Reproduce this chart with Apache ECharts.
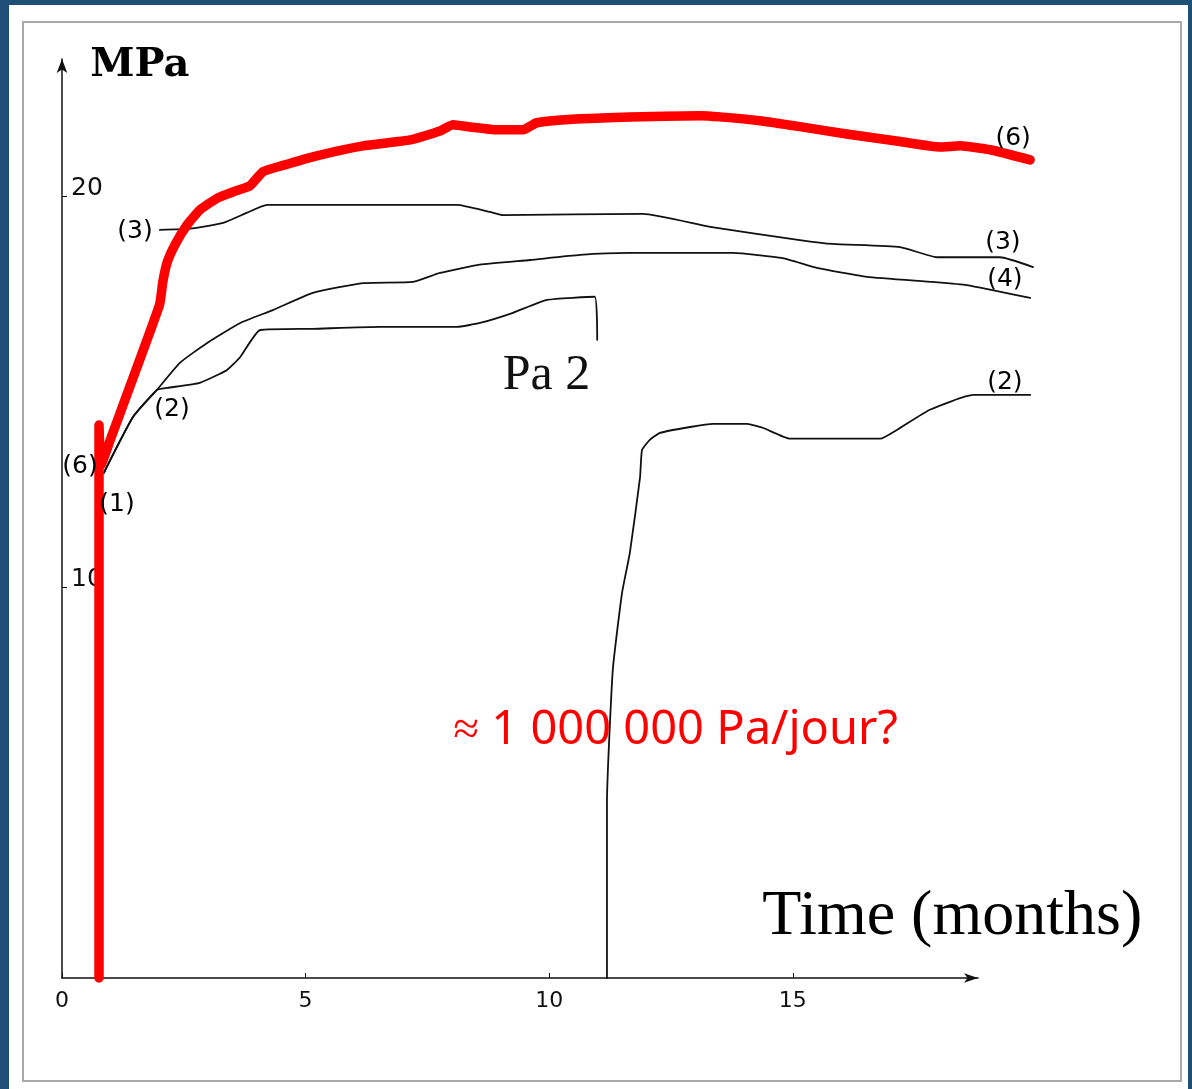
<!DOCTYPE html>
<html><head><meta charset="utf-8">
<script src="https://cdn.jsdelivr.net/npm/echarts@6/dist/echarts.min.js"></script>
<style>
html,body{margin:0;padding:0;width:1192px;height:1089px;overflow:hidden;background:#1f4e79;}
#panel{position:absolute;left:9px;top:5px;width:1179px;height:1084px;background:#fff;}
#inner{position:absolute;left:22px;top:21px;width:1160px;height:1061px;border:2px solid #a9a9a9;box-sizing:border-box;}
#chart{position:absolute;left:0;top:0;width:1192px;height:1089px;}
</style></head><body>
<div id="panel"></div><div id="inner"></div><div id="chart"></div>
<script>
// x: time in months, y: stress in MPa
const xTicks = [0, 5, 10, 15];
const yTicks = [10, 20];

const curve6 = [[0.76,0],[0.76,14.14],[0.80,13.12],[0.99,13.76],[2.0,17.2],[2.07,17.8],[2.16,18.3],[2.32,18.75],[2.57,19.26],[2.83,19.64],[3.2,19.95],[3.51,20.1],[3.86,20.26],[4.13,20.62],[4.54,20.78],[5.15,21.0],[6.18,21.28],[7.15,21.43],[7.76,21.66],[8.03,21.82],[8.38,21.76],[8.93,21.69],[9.47,21.69],[9.75,21.87],[10.64,21.97],[11.66,22.02],[13.1,22.05],[13.51,22.02],[14.33,21.92],[15.15,21.77],[16.18,21.57],[17.21,21.39],[18.03,21.25],[18.44,21.28],[19.06,21.18],[19.88,20.92]];

const curve3 = [[2.01,19.13],[2.63,19.16],[3.31,19.31],[3.8,19.57],[4.21,19.77],[8.11,19.77],[8.79,19.59],[9.06,19.51],[11.93,19.54],[13.31,19.21],[15.15,18.87],[15.83,18.77],[17.21,18.69],[17.97,18.43],[19.26,18.43],[19.94,18.18]];

const curve4 = [[0.86,12.92],[1.46,14.35],[1.95,15.04],[2.42,15.73],[2.98,16.24],[3.66,16.75],[4.33,17.08],[5.15,17.52],[6.18,17.77],[7.21,17.8],[7.76,18.03],[8.58,18.24],[9.61,18.36],[10.64,18.49],[11.66,18.54],[13.78,18.54],[14.8,18.41],[15.5,18.16],[16.53,17.93],[17.89,17.8],[18.58,17.72],[19.88,17.39]];

const curvePa2 = [[0.86,12.92],[1.46,14.35],[1.95,15.04],[2.16,15.09],[2.83,15.22],[3.39,15.55],[3.66,15.88],[4.07,16.57],[5.15,16.6],[6.53,16.65],[8.11,16.65],[8.58,16.75],[9.26,17.01],[9.96,17.34],[10.94,17.42],[10.99,16.32]];

const curve2 = [[11.19,0],[11.19,4.48],[11.31,7.88],[11.5,9.85],[11.66,10.87],[11.87,12.81],[11.91,13.5],[12.07,13.76],[12.28,13.94],[12.9,14.09],[13.37,14.17],[14.07,14.17],[14.39,14.07],[14.95,13.79],[16.8,13.79],[17.15,14.02],[17.82,14.53],[18.71,14.91],[19.88,14.91]];

const curveLabels = ['(3)', '(2)', '(6)', '(1)', '(6)', '(3)', '(4)', '(2)'];
const curveLabelAnchors = [[1.5,19.08],[2.26,14.53],[0.37,13.09],[1.13,12.1],[19.53,21.46],[19.32,18.82],[19.36,17.85],[19.36,15.24]];

const textMPa = 'MPa';
const textPa2 = 'Pa 2';
const textXTitle = 'Time (months)';
const textNote = '≈ 1 000 000 Pa/jour?';

const chart = echarts.init(document.getElementById('chart'), null, {renderer: 'canvas'});

function lineSeries(data, color, width) {
  return {type: 'line', xAxisIndex: 0, yAxisIndex: 0, data: data, showSymbol: false, symbol: 'none', clip: false, smooth: 0.15,
    lineStyle: {color: color, width: width, cap: 'round', join: 'round'}, z: width > 4 ? 5 : 3, silent: true};
}

const smallLabelData = curveLabels.map((t, i) => ({name: t, value: curveLabelAnchors[i]}));

const gridBox = {left: 62, top: 59, height: 919};

const option = {
  animation: false,
  backgroundColor: 'transparent',
  grid: [
    Object.assign({width: 974, containLabel: false}, gridBox),  // data grid, 0..20 months
    Object.assign({width: 916, containLabel: false}, gridBox)   // drawn axis, 0..18.8 months
  ],
  xAxis: [
    {type: 'value', gridIndex: 0, min: 0, max: 20, show: false},
    {
      type: 'value', gridIndex: 1, min: 0, max: 18.8,
      axisLine: {show: true, symbol: ['none', 'arrow'], symbolSize: [7, 14], lineStyle: {color: '#111', width: 1.5}},
      axisTick: {show: true, inside: true, length: 5, customValues: xTicks, lineStyle: {color: '#111'}},
      axisLabel: {customValues: xTicks, margin: 12, fontFamily: 'DejaVu Sans', fontSize: 22, color: '#111'},
      splitLine: {show: false}
    }
  ],
  yAxis: [
    {
      type: 'value', gridIndex: 0, min: 0, max: 23.5,
      axisLine: {show: true, symbol: ['none', 'arrow'], symbolSize: [8, 14], lineStyle: {color: '#111', width: 1.5}},
      axisTick: {show: true, inside: true, length: 5, customValues: yTicks, lineStyle: {color: '#111'}},
      axisLabel: {inside: true, customValues: yTicks, margin: 9, fontFamily: 'DejaVu Sans', fontSize: 25, color: '#111', verticalAlign: 'bottom', padding: [0,0,-5,0]},
      splitLine: {show: false}
    },
    {type: 'value', gridIndex: 1, min: 0, max: 23.5, show: false}
  ],
  series: [
    lineSeries(curve3, '#111', 1.8),
    lineSeries(curve4, '#111', 1.8),
    lineSeries(curvePa2, '#111', 1.8),
    lineSeries(curve2, '#111', 1.8),
    lineSeries(curve6, '#ff0000', 9.5),
    {
      type: 'scatter', xAxisIndex: 0, yAxisIndex: 0, symbolSize: 0, clip: false, silent: true, z: 6,
      itemStyle: {opacity: 1},
      data: smallLabelData,
      label: {show: true, position: 'inside', formatter: p => p.name, fontFamily: 'DejaVu Sans', fontSize: 25, color: '#000'}
    },
    {
      type: 'scatter', xAxisIndex: 0, yAxisIndex: 0, symbolSize: 0, clip: false, silent: true, z: 6,
      itemStyle: {opacity: 1},
      data: [
        {name: textMPa, value: [1.6, 23.34], label: {fontFamily: 'DejaVu Serif', fontWeight: 'bold', fontSize: 40, color: '#000'}},
        {name: textPa2, value: [9.95, 15.4], label: {fontFamily: 'Liberation Serif', fontSize: 50, color: '#111'}},
        {name: textXTitle, value: [18.28, 1.56], label: {fontFamily: 'Liberation Serif', fontSize: 64, color: '#000'}},
        {name: textNote, value: [12.6, 6.32], label: {fontFamily: 'Noto Sans', fontSize: 47, color: '#ff0000'}}
      ],
      label: {show: true, position: 'inside', formatter: p => p.name}
    }
  ]
};
chart.setOption(option);
</script></body></html>
